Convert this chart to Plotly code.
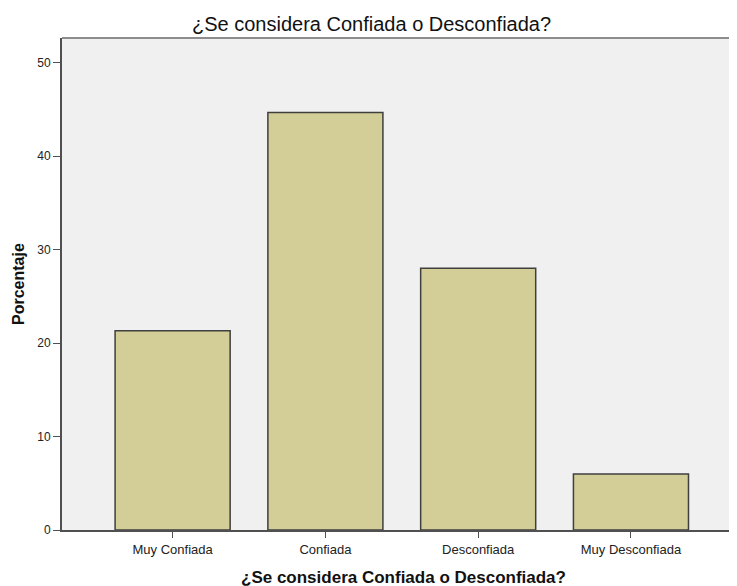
import plotly.graph_objects as go

categories = ["Muy Confiada", "Confiada", "Desconfiada", "Muy Desconfiada"]
percentages = [21.33, 44.67, 28.0, 6.0]
y_ticks = [0, 10, 20, 30, 40, 50]
title_text = "¿Se considera Confiada o Desconfiada?"
x_title = "¿Se considera Confiada o Desconfiada?"
y_title = "Porcentaje"

# page body has an 8px margin, so the figure is sized/placed to compensate
OFF = 8
W, H = 737 - OFF, 586 - OFF
ml, mr, mt, mb = 62 - OFF, 0, 38 - OFF, 586 - 530
pw = W - ml - mr
ph = H - mt - mb

fig = go.Figure()
fig.add_trace(go.Bar(
    x=categories, y=percentages, width=0.753,
    marker=dict(color="#d3ce97", line=dict(color="#3f3f3f", width=1.5)),
    hoverinfo="skip",
))

fig.update_layout(
    width=W, height=H,
    margin=dict(l=ml, r=mr, t=mt, b=mb),
    paper_bgcolor="white", plot_bgcolor="#f0f0f0",
    showlegend=False,
    font=dict(family="Arial, Liberation Sans, sans-serif", color="#222", size=13),
    xaxis=dict(
        range=[-0.724, 3.694], showgrid=False, zeroline=False,
        showline=True, linecolor="#505050", linewidth=2,
        ticks="outside", ticklen=6, tickcolor="#505050", tickwidth=1,
        tickfont=dict(size=13, color="#222"),
    ),
    yaxis=dict(
        range=[0, 52.65], showgrid=False, zeroline=False,
        showline=True, linecolor="#505050", linewidth=2,
        ticks="outside", ticklen=7, tickcolor="#505050", tickwidth=1,
        tickvals=y_ticks, tickfont=dict(size=12, color="#222"),
    ),
    shapes=[dict(type="line", xref="paper", yref="paper", x0=0, x1=1, y0=1, y1=1,
                 line=dict(color="#8c8c8c", width=2))],
    annotations=[
        dict(text=title_text, xref="paper", yref="paper",
             x=(371.5 - 62) / pw, y=1, yshift=(38 - 24), showarrow=False,
             font=dict(size=20, color="#111"), xanchor="center", yanchor="middle"),
        dict(text="<b>" + x_title + "</b>", xref="paper", yref="paper",
             x=(403 - 62) / pw, y=0, yshift=-(577 - 530), showarrow=False,
             font=dict(size=17, color="#111"), xanchor="center", yanchor="middle"),
        dict(text="<b>" + y_title + "</b>", xref="paper", yref="paper",
             x=0, xshift=-(62 - 18), y=(530 - 284) / (530 - 38), showarrow=False,
             textangle=-90, font=dict(size=16, color="#111"),
             xanchor="center", yanchor="middle"),
    ],
)

fig.write_html("out.html")
